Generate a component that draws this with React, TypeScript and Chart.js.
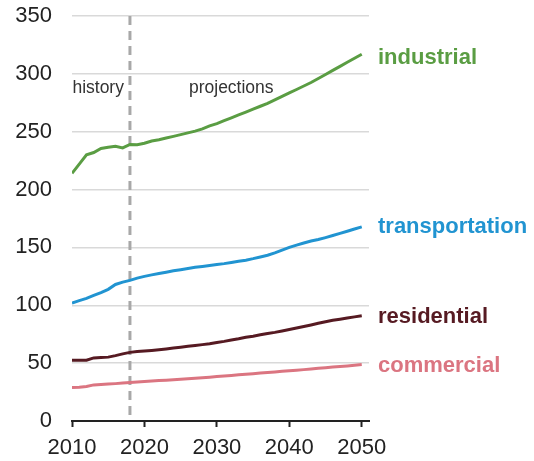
import React, { useEffect, useRef } from "react";
import { Chart, registerables } from "chart.js";

Chart.register(...registerables);

const years = [
  2010, 2011, 2012, 2013, 2014, 2015, 2016, 2017, 2018, 2019,
  2020, 2021, 2022, 2023, 2024, 2025, 2026, 2027, 2028, 2029,
  2030, 2031, 2032, 2033, 2034, 2035, 2036, 2037, 2038, 2039,
  2040, 2041, 2042, 2043, 2044, 2045, 2046, 2047, 2048, 2049, 2050,
];

const industrial = [
  214, 222, 230, 232, 235.5, 236.5, 237.5, 236, 239, 238.7,
  240, 242, 243, 244.5, 246, 247.5, 249, 250.5, 252.5, 255,
  257, 259.5, 262, 264.5, 267, 269.5, 272, 274.5, 277.5, 280.5,
  283.5, 286.5, 289.5, 292.5, 296, 299.5, 303, 306.5, 310, 313.5, 317,
];

const transportation = [
  102, 104, 106, 108.5, 111, 113.8, 118, 120, 121.5, 123.5,
  125, 126.3, 127.5, 128.6, 129.8, 130.8, 131.8, 132.8, 133.6, 134.4,
  135.2, 136, 137, 138, 139, 140.3, 141.8, 143.3, 145.3, 147.6,
  150, 152, 153.8, 155.5, 156.8, 158.5, 160.3, 162.2, 164, 165.9, 167.8,
];

const residential = [
  52.5, 52.5, 52.5, 54.5, 54.8, 55.2, 56.5, 58, 59.3, 60,
  60.5, 61, 61.6, 62.3, 63, 63.8, 64.5, 65.2, 66, 66.8,
  67.8, 68.8, 70, 71, 72.3, 73.3, 74.5, 75.6, 76.6, 77.8,
  79, 80.3, 81.6, 83, 84.5, 85.8, 87, 88, 89, 90, 91,
];

const commercial = [
  29, 29.2, 29.8, 31.2, 31.5, 31.9, 32.3, 32.8, 33.3, 33.7,
  34.1, 34.5, 34.9, 35.3, 35.7, 36.1, 36.5, 37, 37.4, 37.9,
  38.4, 38.9, 39.4, 39.9, 40.4, 40.9, 41.4, 41.9, 42.4, 42.9,
  43.4, 43.9, 44.4, 44.9, 45.5, 46.1, 46.6, 47.1, 47.6, 48.2, 48.8,
];

const seriesNames = ["industrial", "transportation", "residential", "commercial"];
const seriesValues = [industrial, transportation, residential, commercial];
const seriesColors = ["#5a9d43", "#2194d1", "#561a22", "#db7581"];
const labelOffsets = [4, 0, 1.5, 1.5];

const yTicks = [0, 50, 100, 150, 200, 250, 300, 350];
const xTicks = [2010, 2020, 2030, 2040, 2050];
const dividerYear = 2018;
const periodLabels = ["history", "projections"];

const FONT = "'Liberation Sans', Arial, sans-serif";

const annotationPlugin = {
  id: "annotations",
  beforeDatasetsDraw(chart: any) {
    const { ctx, chartArea, scales } = chart;
    const x = scales.x.getPixelForValue(dividerYear);
    ctx.save();
    ctx.strokeStyle = "#a8a8a8";
    ctx.lineWidth = 3;
    ctx.setLineDash([9, 6]);
    ctx.beginPath();
    ctx.moveTo(x, chartArea.top);
    ctx.lineTo(x, chartArea.bottom);
    ctx.stroke();
    ctx.setLineDash([]);
    ctx.fillStyle = "#333";
    ctx.font = `17.5px ${FONT}`;
    ctx.textBaseline = "alphabetic";
    ctx.textAlign = "right";
    ctx.fillText(periodLabels[0], x - 6, chartArea.top + 76.5);
    ctx.textAlign = "left";
    ctx.fillText(periodLabels[1], x + 59, chartArea.top + 76.5);
    ctx.restore();
  },
  afterDatasetsDraw(chart: any) {
    const { ctx, chartArea, scales } = chart;
    ctx.save();
    ctx.font = `bold 22px ${FONT}`;
    ctx.textAlign = "left";
    ctx.textBaseline = "middle";
    seriesNames.forEach((name, i) => {
      const vals = seriesValues[i];
      const y = scales.y.getPixelForValue(vals[vals.length - 1]) + labelOffsets[i];
      ctx.fillStyle = seriesColors[i];
      ctx.fillText(name, chartArea.right + 9, y);
    });
    ctx.restore();
  },
};

export default function App() {
  const canvasRef = useRef<HTMLCanvasElement | null>(null);

  useEffect(() => {
    if (!canvasRef.current) return;
    const chart = new Chart(canvasRef.current, {
      type: "line",
      data: {
        datasets: seriesNames.map((name, i) => ({
          label: name,
          data: years.map((yr, j) => ({ x: yr, y: seriesValues[i][j] })),
          borderColor: seriesColors[i],
          borderWidth: 3,
          pointRadius: 0,
          tension: 0,
          fill: false,
        })),
      },
      options: {
        animation: false,
        responsive: false,
        maintainAspectRatio: false,
        layout: { padding: { left: 0, right: 165, top: 16, bottom: 0 } },
        plugins: {
          legend: { display: false },
          tooltip: { enabled: false },
        },
        scales: {
          x: {
            type: "linear",
            min: 2010,
            max: 2051,
            afterBuildTicks: (scale: any) => {
              scale.ticks = xTicks.map((v) => ({ value: v }));
            },
            afterFit: (scale: any) => {
              scale.height = 40;
              scale.paddingTop = 0;
              scale.paddingBottom = 0;
            },
            ticks: {
              callback: (v: any) => String(v),
              font: { family: FONT, size: 22 },
              color: "#222",
              padding: 8,
              maxRotation: 0,
              autoSkip: false,
            },
            grid: {
              drawOnChartArea: false,
              drawTicks: true,
              tickLength: 6,
              tickWidth: 2,
              tickColor: "#222",
            },
            border: { display: true, color: "#222", width: 2 },
          },
          y: {
            min: 0,
            max: 350,
            afterBuildTicks: (scale: any) => {
              scale.ticks = yTicks.map((v) => ({ value: v }));
            },
            afterFit: (scale: any) => {
              scale.width = 72;
              scale.paddingTop = 0;
              scale.paddingBottom = 0;
            },
            ticks: {
              font: { family: FONT, size: 22 },
              color: "#222",
              padding: 20,
            },
            grid: {
              color: "#d9d9d9",
              lineWidth: 1.5,
              drawTicks: false,
            },
            border: { display: false },
          },
        },
      },
      plugins: [annotationPlugin],
    });
    return () => chart.destroy();
  }, []);

  return (
    <div style={{ position: "absolute", left: 0, top: 0, width: 534, height: 461 }}>
      <canvas ref={canvasRef} width={534} height={461} style={{ width: 534, height: 461 }} />
    </div>
  );
}
